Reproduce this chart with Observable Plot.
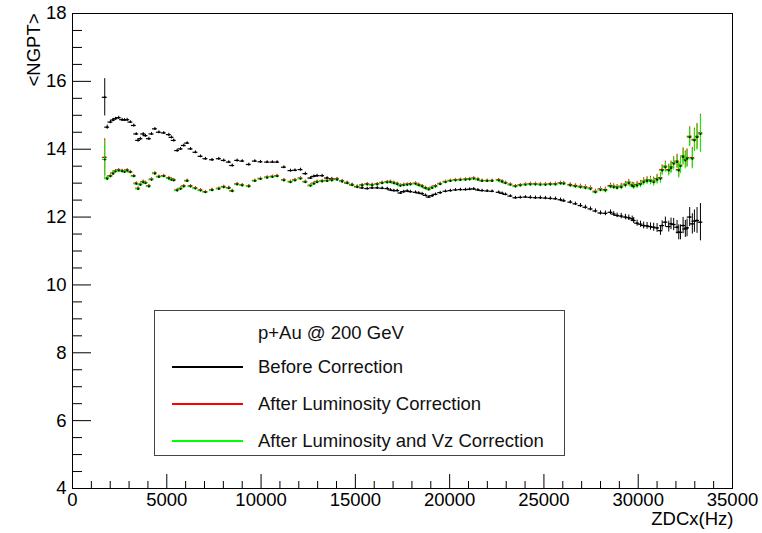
<!DOCTYPE html>
<html>
<head>
<meta charset="utf-8">
<script src="https://cdn.jsdelivr.net/npm/d3@7"></script>
<script src="https://cdn.jsdelivr.net/npm/@observablehq/plot@0.6"></script>
<style>
  body { margin: 0; background: #fff; }
  #wrap { position: relative; width: 762px; height: 533px; font-family: "Liberation Sans", Arial, sans-serif; color: #000; }
  #legend { position: absolute; left: 154px; top: 310px; width: 411px; height: 146px; border: 1px solid #444; background: #fff; box-sizing: border-box; }
  .lrow { position: absolute; left: 0; width: 100%; height: 22px; }
  .lline { position: absolute; left: 17px; width: 71px; top: 10px; height: 1.5px; }
  .ltext { position: absolute; left: 103px; top: 0; line-height: 22px; font-size: 18.5px; white-space: nowrap; color: #111; }
</style>
</head>
<body>
<div id="wrap"></div>
<script>
// ---- data ----
const zdcx = [1710,1840,2010,2150,2280,2450,2630,2760,2900,3070,3250,3380,3480,3600,3750,3870,4050,4190,4370,4580,4840,5110,5250,5370,5550,5730,5900,6080,6260,6520,6790,7050,7400,7760,8020,8290,8470,8730,9000,9350,9670,9970,10320,10600,10850,11210,11560,11800,12090,12350,12620,12800,12970,13240,13500,13750,14030,14300,14570,14830,15100,15360,15630,15890,16160,16420,16690,16860,17040,17220,17390,17560,17750,17920,18190,18360,18540,18720,18890,19070,19250,19500,19780,20040,20310,20570,20840,21060,21280,21500,21720,21990,22250,22600,22780,22960,23220,23490,23750,24020,24280,24550,24810,25080,25340,25610,25880,26050,26400,26670,26940,27200,27470,27730,28000,28260,28530,28700,28880,29100,29320,29500,29680,29760,29940,30120,30290,30470,30650,30820,31000,31180,31270,31440,31620,31740,31880,32060,32150,32240,32380,32500,32590,32730,32870,32980,33120,33300];

const beforeCorr = [15.53,14.65,14.80,14.86,14.90,14.93,14.87,14.86,14.87,14.80,14.70,14.45,14.26,14.31,14.45,14.40,14.31,14.45,14.60,14.50,14.48,14.43,14.35,14.26,13.96,14.01,14.11,14.18,14.01,13.91,13.79,13.72,13.69,13.72,13.67,13.62,13.52,13.67,13.65,13.55,13.65,13.63,13.62,13.62,13.62,13.47,13.37,13.38,13.40,13.28,13.15,13.20,13.22,13.22,13.15,13.13,13.12,13.05,13.00,12.95,12.90,12.86,12.84,12.86,12.86,12.85,12.84,12.80,12.78,12.78,12.71,12.75,12.77,12.75,12.73,12.71,12.69,12.64,12.59,12.63,12.67,12.72,12.76,12.78,12.80,12.81,12.81,12.82,12.83,12.80,12.78,12.77,12.76,12.73,12.70,12.67,12.62,12.57,12.58,12.59,12.58,12.57,12.57,12.56,12.55,12.54,12.51,12.48,12.44,12.39,12.34,12.29,12.24,12.18,12.12,12.11,12.14,12.09,12.05,12.03,12.00,11.98,11.95,11.90,11.82,11.79,11.75,11.74,11.72,11.70,11.68,11.60,11.75,11.85,11.72,11.80,11.78,11.70,11.55,11.55,11.75,11.65,11.68,12.00,11.80,11.88,11.90,11.85];

const afterLumi = [13.76,13.15,13.22,13.30,13.36,13.39,13.37,13.35,13.39,13.34,13.22,13.00,12.85,12.97,13.05,13.02,12.92,13.12,13.30,13.20,13.22,13.16,13.12,13.10,12.80,12.85,12.92,13.08,12.92,12.86,12.80,12.75,12.81,12.85,12.90,12.87,12.78,12.98,12.95,12.92,13.08,13.14,13.18,13.20,13.22,13.10,13.05,13.10,13.15,13.05,12.94,13.00,13.05,13.07,13.08,13.10,13.12,13.07,13.02,12.96,12.90,12.95,12.98,12.96,12.98,13.02,13.04,13.05,13.02,12.99,12.94,12.96,12.97,12.98,13.00,12.96,12.92,12.87,12.83,12.88,12.92,12.99,13.05,13.08,13.10,13.11,13.12,13.13,13.15,13.12,13.08,13.08,13.08,13.10,13.06,13.02,12.97,12.92,12.95,12.97,12.98,12.98,12.97,12.97,12.98,12.98,13.01,13.00,12.96,12.93,12.91,12.89,12.86,12.76,12.83,12.81,12.93,12.91,12.89,12.91,12.97,13.03,12.95,12.93,12.96,12.99,13.06,13.09,13.09,13.06,13.13,13.16,13.40,13.50,13.40,13.48,13.60,13.65,13.40,13.53,13.80,13.70,13.75,14.38,13.75,14.29,14.38,14.48];

const afterLumiVz = [13.70,13.13,13.20,13.28,13.34,13.37,13.35,13.33,13.37,13.32,13.20,12.98,12.83,12.95,13.03,13.00,12.90,13.10,13.28,13.18,13.20,13.14,13.10,13.08,12.78,12.83,12.90,13.06,12.90,12.84,12.78,12.73,12.79,12.83,12.88,12.85,12.76,12.96,12.93,12.90,13.06,13.12,13.16,13.18,13.20,13.08,13.03,13.08,13.13,13.03,12.92,12.98,13.03,13.05,13.06,13.08,13.10,13.05,13.00,12.94,12.88,12.93,12.96,12.94,12.96,13.00,13.02,13.03,13.00,12.97,12.92,12.94,12.95,12.96,12.98,12.94,12.90,12.85,12.81,12.86,12.90,12.97,13.03,13.06,13.08,13.09,13.10,13.11,13.13,13.10,13.06,13.06,13.06,13.08,13.04,13.00,12.95,12.90,12.93,12.95,12.96,12.96,12.95,12.95,12.96,12.96,12.99,12.98,12.93,12.90,12.88,12.86,12.83,12.73,12.80,12.78,12.90,12.88,12.86,12.88,12.94,13.00,12.92,12.90,12.93,12.96,13.03,13.06,13.06,13.03,13.10,13.13,13.37,13.47,13.37,13.45,13.57,13.62,13.37,13.50,13.77,13.67,13.72,14.35,13.72,14.26,14.35,14.45];

const errY = [0.55,0.06,0.05,0.05,0.04,0.04,0.04,0.04,0.04,0.04,0.04,0.04,0.04,0.04,0.04,0.04,0.04,0.04,0.04,0.04,0.04,0.04,0.04,0.04,0.04,0.04,0.04,0.04,0.04,0.04,0.04,0.04,0.04,0.04,0.04,0.04,0.04,0.04,0.04,0.04,0.04,0.04,0.04,0.04,0.04,0.04,0.04,0.04,0.04,0.04,0.04,0.04,0.04,0.04,0.04,0.04,0.04,0.04,0.04,0.04,0.04,0.04,0.04,0.04,0.04,0.04,0.04,0.04,0.04,0.04,0.04,0.04,0.04,0.04,0.04,0.04,0.04,0.04,0.04,0.04,0.04,0.04,0.04,0.04,0.04,0.04,0.04,0.04,0.04,0.04,0.04,0.04,0.04,0.04,0.04,0.04,0.04,0.04,0.04,0.04,0.05,0.05,0.05,0.05,0.05,0.05,0.05,0.05,0.05,0.05,0.06,0.06,0.06,0.06,0.06,0.07,0.07,0.07,0.07,0.08,0.08,0.08,0.08,0.09,0.09,0.09,0.10,0.10,0.11,0.12,0.13,0.14,0.14,0.15,0.16,0.17,0.18,0.20,0.22,0.22,0.24,0.25,0.26,0.28,0.30,0.33,0.38,0.55];

const binHalfWidth = 130; // horizontal error bar half-width (Hz)

const seriesNames = ["Before Correction", "After Luminosity Correction", "After Luminosity and Vz Correction"];
const seriesColors = ["#000000", "#ff0000", "#00ff00"];
const seriesValues = [beforeCorr, afterLumi, afterLumiVz];
const legendHeader = "p+Au @ 200 GeV";

const yTicks = [4, 6, 8, 10, 12, 14, 16, 18];
const yMinorTicks = d3.range(4, 18.001, 0.5).filter(v => v % 2 !== 0);
const xTicks = [0, 5000, 10000, 15000, 20000, 25000, 30000, 35000];
const xMinorTicks = d3.range(0, 35001, 1000).filter(v => v % 5000 !== 0);
const xTitle = "ZDCx(Hz)";
const yTitle = "<NGPT>";

// ---- build ----
const font = "'Liberation Sans', Arial, sans-serif";
const marks = [];
seriesNames.forEach((name, s) => {
  const rows = zdcx.map((x, i) => ({x, y: seriesValues[s][i], e: errY[i]}));
  marks.push(
    Plot.ruleX(rows, {x: "x", y1: d => d.y - d.e, y2: d => d.y + d.e, stroke: seriesColors[s], strokeWidth: 1}),
    Plot.ruleY(rows, {y: "y", x1: d => d.x - binHalfWidth, x2: d => d.x + binHalfWidth, stroke: seriesColors[s], strokeWidth: 1.2}),
    Plot.dot(rows, {x: "x", y: "y", r: 1, fill: "#000", stroke: null})
  );
});

const chart = Plot.plot({
  width: 762,
  height: 533,
  marginLeft: 72,
  marginRight: 30,
  marginTop: 13,
  marginBottom: 45,
  style: {fontFamily: font, fontSize: "18.5px", background: "#fff", color: "#000", overflow: "visible"},
  x: {domain: [0, 35000]},
  y: {domain: [4, 18]},
  marks: [
    ...marks,
    Plot.tickY(yTicks, {y: d => d, insetRight: 641, stroke: "#000"}),
    Plot.tickY(yMinorTicks, {y: d => d, insetRight: 650, stroke: "#000"}),
    Plot.tickX(xTicks, {x: d => d, insetTop: 461, stroke: "#000"}),
    Plot.tickX(xMinorTicks, {x: d => d, insetTop: 468, stroke: "#000"}),
    Plot.axisY(yTicks, {tickSize: 0, tickPadding: 6, label: null, fontSize: 18.5, tickFormat: d => String(d)}),
    Plot.axisX(xTicks, {tickSize: 0, tickPadding: 4, label: null, fontSize: 18.5, tickFormat: d => String(d)}),
    Plot.frame({stroke: "#000", strokeWidth: 1}),
    Plot.text([xTitle], {text: d => d, frameAnchor: "bottom-right", textAnchor: "end", dy: 36, dx: 1, fontSize: 18.5}),
    Plot.text([yTitle], {text: d => d, frameAnchor: "top-left", rotate: -90, textAnchor: "end", dx: -45.5, dy: 0, fontSize: 18.5})
  ]
});

const wrap = document.getElementById("wrap");
wrap.appendChild(chart);

// legend
const legend = document.createElement("div");
legend.id = "legend";
const hdr = document.createElement("div");
hdr.className = "lrow";
hdr.style.top = (22 - 11) + "px";
const htx = document.createElement("span");
htx.className = "ltext";
htx.textContent = legendHeader;
hdr.appendChild(htx);
legend.appendChild(hdr);
const rowCenters = [56, 93, 130];
seriesNames.forEach((name, s) => {
  const r = document.createElement("div");
  r.className = "lrow";
  r.style.top = (rowCenters[s] - 11) + "px";
  const ln = document.createElement("div");
  ln.className = "lline";
  ln.style.background = seriesColors[s];
  const tx = document.createElement("span");
  tx.className = "ltext";
  tx.textContent = name;
  r.appendChild(ln); r.appendChild(tx);
  legend.appendChild(r);
});
wrap.appendChild(legend);
</script>
</body>
</html>
